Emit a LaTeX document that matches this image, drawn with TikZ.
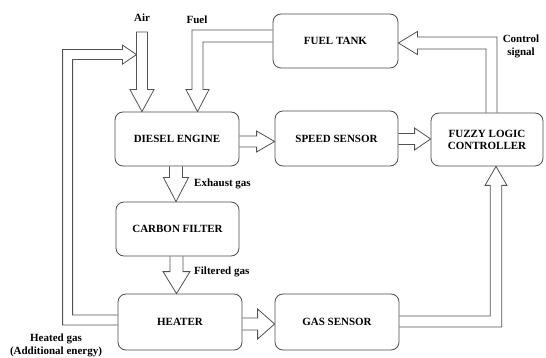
\documentclass[tikz,border=0pt]{standalone}
\usepackage{fontspec}
\setmainfont{Liberation Serif}
\usetikzlibrary{calc}
\begin{document}
\begin{tikzpicture}[x=1pt,y=-1pt,
  blk/.style={draw=black!70,line width=0.8pt,rounded corners=8pt,fill=white,inner sep=0pt,
    font=\fontsize{11}{12}\selectfont\bfseries,align=center},
  pipe/.style={draw=black!68,line width=0.8pt,line join=miter},
  lbl/.style={font=\fontsize{11}{12.5}\selectfont\bfseries,inner sep=0pt,align=center}]
\useasboundingbox (0,0) rectangle (546,358);
% blocks
\node[blk,minimum width=125pt,minimum height=54pt] (ft) at (335.5,41) {FUEL TANK};
\node[blk,minimum width=124pt,minimum height=54pt] (de) at (177,139) {DIESEL ENGINE};
\node[blk,minimum width=123pt,minimum height=55pt] (ss) at (336.5,138.5) {SPEED SENSOR};
\node[blk,minimum width=112pt,minimum height=53pt] (flc) at (487,139.5) {FUZZY LOGIC\\CONTROLLER};
\node[blk,minimum width=123pt,minimum height=54pt] (cf) at (177.5,229) {CARBON FILTER};
\node[blk,minimum width=124pt,minimum height=56pt] (ht) at (180,322) {HEATER};
\node[blk,minimum width=124pt,minimum height=56pt] (gs) at (337,322) {GAS SENSOR};
% key coordinates
\coordinate (airtip) at ($(de.north)+(-35,0)$);
\coordinate (airtop) at (142,32);
\coordinate (hgtip) at ($(airtip)+(-5.5,-57)$);
\coordinate (fueltip) at ($(de.north)+(20.5,0)$);
\coordinate (extip) at ($(cf.north)+(-1.5,0)$);
\coordinate (fitip) at ($(ht.north)+(-3.5,0)$);
\coordinate (dstip) at ($(ss.west)+(0,3)$);
\coordinate (sftip) at ($(flc.west)+(0,-0.5)$);
\coordinate (hgstip) at ($(gs.west)+(0,2)$);
\coordinate (gftip) at ($(flc.south)+(9,0)$);
\coordinate (cstip) at ($(ft.east)+(0,2)$);
% air
\draw[pipe] ($(airtop)+(-5.5,0)$) -- ($(airtip)+(-5.5,-22)$) -- ($(airtip)+(-12,-22)$) -- (airtip)
  -- ($(airtip)+(12,-22)$) -- ($(airtip)+(5.5,-22)$) -- ($(airtop)+(5.5,0)$) -- cycle;
\node[lbl] (airl) at (142,18) {Air};
% heated gas feedback
\draw[pipe] ($(ht.west)+(0,3)$) -- ++(-55,0) |- ($(hgtip)+(-14,-5)$) -- ($(hgtip)+(-14,-9.5)$) -- (hgtip)
  -- ($(hgtip)+(-14,9.5)$) -- ($(hgtip)+(-14,5)$) -| ($(ht.west)+(-45,-7)$) -- ($(ht.west)+(0,-7)$);
\node[lbl] (hgl) at (56,345.5) {Heated gas\\(Additional energy)};
% fuel
\draw[pipe] ($(ft.west)+(0,-11)$) -| ($(fueltip)+(-5.5,-22)$) -- ($(fueltip)+(-11.5,-22)$) -- (fueltip)
  -- ($(fueltip)+(11.5,-22)$) -- ($(fueltip)+(5.5,-22)$) |- ($(ft.west)+(0,1)$);
\node[lbl] (fuell) at (197,20) {Fuel};
% exhaust
\draw[pipe] ($(extip |- de.south)+(-6.5,0)$) -- ($(extip)+(-6.5,-24)$) -- ($(extip)+(-12.5,-24)$) -- (extip)
  -- ($(extip)+(12.5,-24)$) -- ($(extip)+(6.5,-24)$) -- ($(extip |- de.south)+(6.5,0)$);
\node[lbl,anchor=west] (exl) at (194,184) {Exhaust gas};
% filtered
\draw[pipe] ($(fitip |- cf.south)+(-6.5,0)$) -- ($(fitip)+(-6.5,-22)$) -- ($(fitip)+(-13.5,-22)$) -- (fitip)
  -- ($(fitip)+(13.5,-22)$) -- ($(fitip)+(6.5,-22)$) -- ($(fitip |- cf.south)+(6.5,0)$);
\node[lbl,anchor=west] (fil) at (194,272) {Filtered gas};
% diesel -> speed
\draw[pipe] ($(dstip -| de.east)+(0,-5.5)$) -- ($(dstip)+(-18,-5.5)$) -- ($(dstip)+(-18,-10.5)$) -- (dstip)
  -- ($(dstip)+(-18,10.5)$) -- ($(dstip)+(-18,5.5)$) -- ($(dstip -| de.east)+(0,5.5)$);
% speed -> flc
\draw[pipe] ($(sftip -| ss.east)+(0,-5.5)$) -- ($(sftip)+(-16,-5.5)$) -- ($(sftip)+(-16,-11)$) -- (sftip)
  -- ($(sftip)+(-16,11)$) -- ($(sftip)+(-16,5.5)$) -- ($(sftip -| ss.east)+(0,5.5)$);
% heater -> gas sensor
\draw[pipe] ($(hgstip -| ht.east)+(0,-6)$) -- ($(hgstip)+(-17,-6)$) -- ($(hgstip)+(-17,-15)$) -- (hgstip)
  -- ($(hgstip)+(-17,15)$) -- ($(hgstip)+(-17,6)$) -- ($(hgstip -| ht.east)+(0,6)$);
% gas sensor -> flc
\draw[pipe] ($(gs.east)+(0,-6)$) -| ($(gftip)+(-5.75,19)$) -- ($(gftip)+(-11,19)$) -- (gftip)
  -- ($(gftip)+(11,19)$) -- ($(gftip)+(5.75,19)$) |- ($(gs.east)+(0,5)$);
% flc -> fuel tank
\draw[pipe] ($(flc.north)+(-1,0)$) |- ($(cstip)+(19,6)$) -- ($(cstip)+(19,11.5)$) -- (cstip)
  -- ($(cstip)+(19,-11.5)$) -- ($(cstip)+(19,-6)$) -| ($(flc.north)+(10,0)$);
\node[lbl] (csl) at (521,46.5) {Control\\signal};
\end{tikzpicture}
\end{document}
